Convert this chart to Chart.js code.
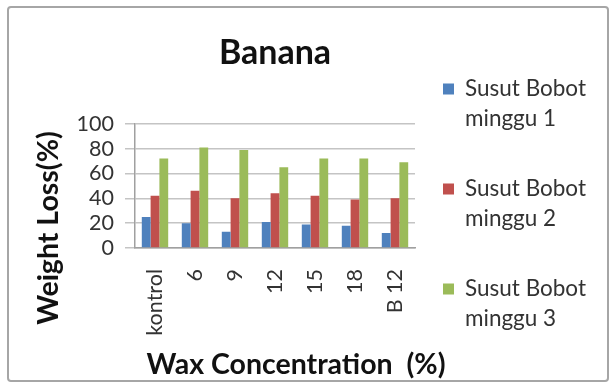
<!DOCTYPE html>
<html>
<head>
<meta charset="utf-8">
<script src="https://cdn.jsdelivr.net/npm/chart.js@4"></script>
<style>
  body { margin: 0; background: #fff; }
  #wrap { position: relative; width: 615px; height: 387px; }
  #frame { position: absolute; left: 7px; top: 6px; width: 598px; height: 372px;
           border: 2px solid #a6a6a6; border-radius: 4px; }
  canvas { position: absolute; left: 0; top: 0; }
</style>
</head>
<body>
<div id="wrap">
  <div id="frame"></div>
  <canvas id="chart" width="615" height="387"></canvas>
</div>
<script>
// weight loss (%) per wax concentration
const categories = ['kontrol', '6', '9', '12', '15', '18', 'B 12'];
const week1 = [25, 20, 13, 21, 19, 18, 12];
const week2 = [42, 46, 40, 44, 42, 39, 40];
const week3 = [72, 81, 79, 65, 72, 72, 69];
const yTicks = [0, 20, 40, 60, 80, 100];
const seriesNames = [['Susut Bobot', 'minggu 1'], ['Susut Bobot', 'minggu 2'], ['Susut Bobot', 'minggu 3']];
const colors = ['#4F81BD', '#C0504D', '#9BBB59'];

const FONT = 'Lato, "Open Sans", sans-serif';

// axis titles + legend on the right, drawn by hand so the legend can wrap
const extras = {
  id: 'extras',
  afterDraw(chart) {
    const ctx = chart.ctx;
    ctx.save();
    ctx.fillStyle = '#111';
    ctx.font = 'bold 28.5px ' + FONT;
    ctx.textAlign = 'center';
    ctx.textBaseline = 'middle';
    ctx.fillText('Wax Concentration  (%)', 296, 365);

    ctx.translate(49, 228);
    ctx.rotate(-Math.PI / 2);
    ctx.fillText('Weight Loss(%)', 0, 0);
    ctx.restore();

    ctx.save();
    ctx.font = '22.5px ' + FONT;
    ctx.textAlign = 'left';
    ctx.textBaseline = 'middle';
    seriesNames.forEach((lines, i) => {
      const y = 89 + i * 100;
      ctx.fillStyle = colors[i];
      ctx.fillRect(443, y - 5.5, 11, 11);
      ctx.fillStyle = '#333';
      lines.forEach((t, j) => ctx.fillText(t, 465, y + j * 30));
    });
    ctx.restore();
  }
};

new Chart(document.getElementById('chart'), {
  type: 'bar',
  data: {
    labels: categories,
    datasets: [
      { label: seriesNames[0].join(' '), data: week1, backgroundColor: colors[0] },
      { label: seriesNames[1].join(' '), data: week2, backgroundColor: colors[1] },
      { label: seriesNames[2].join(' '), data: week3, backgroundColor: colors[2] },
    ],
  },
  options: {
    responsive: false,
    animation: false,
    layout: { padding: { left: 0, right: 200, top: 0, bottom: 0 } },
    datasets: { bar: { categoryPercentage: 0.66, barPercentage: 1 } },
    plugins: {
      legend: { display: false },
      tooltip: { enabled: false },
      title: {
        display: true,
        fullSize: false,
        text: 'Banana',
        color: '#111',
        font: { family: FONT, size: 34, weight: 'bold', lineHeight: 1.2 },
        padding: { top: 33, bottom: 50 },
      },
    },
    scales: {
      x: {
        grid: { display: false, drawTicks: false },
        border: { color: '#a0a0a0', width: 1.5 },
        ticks: { minRotation: 90, maxRotation: 90, autoSkip: false, padding: 21, color: '#333', font: { family: FONT, size: 21.5 } },
        afterFit(s) { s.height = 139; },
      },
      y: {
        min: 0,
        max: 100,
        afterBuildTicks(s) { s.ticks = yTicks.map(v => ({ value: v })); },
        grid: { color: '#c4c4c4', lineWidth: 1.5, tickLength: 10 },
        border: { color: '#a0a0a0', width: 1.5 },
        ticks: { autoSkip: false, padding: 11, color: '#333', font: { family: FONT, size: 21.5 } },
        afterFit(s) { s.width = 135; },
      },
    },
  },
  plugins: [extras],
});
</script>
</body>
</html>
